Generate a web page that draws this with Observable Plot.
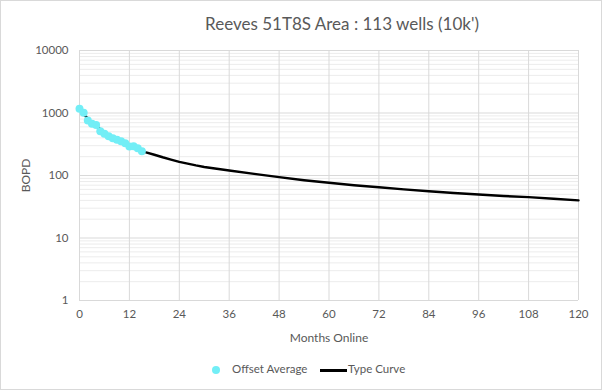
<!DOCTYPE html>
<html><head><meta charset="utf-8">
<script src="https://cdn.jsdelivr.net/npm/d3@7"></script>
<script src="https://cdn.jsdelivr.net/npm/@observablehq/plot@0.6"></script>
<style>
body{margin:0;background:#fff;}
#wrap{position:relative;width:602px;height:390px;font-family:Lato,sans-serif;color:#595959;overflow:hidden;background:#fff}
#frame{position:absolute;left:0;top:0;width:600px;height:388px;border:1px solid #d9d9d9;pointer-events:none}
#title{position:absolute;top:13px;left:342px;transform:translateX(-50%);font-size:17px;white-space:nowrap}
#legend{position:absolute;top:362px;left:0;width:602px;height:16px;font-size:11.5px;white-space:nowrap}
#legend .dot{position:absolute;left:212px;top:4px;width:8px;height:8px;border-radius:50%;background:#72eef6}
#legend .t1{position:absolute;left:232px;top:0px}
#legend .ln{position:absolute;left:320px;top:7px;width:27px;height:3px;background:#000}
#legend .t2{position:absolute;left:348px;top:0px}
#chart{position:absolute;left:0;top:0}
#chart svg g[aria-label="y-axis label"] text, #chart svg g[aria-label="x-axis label"] text{font-size:12px}
</style>
</head><body>
<div id="wrap">
  <div id="chart"></div>
  <div id="title">Reeves 51T8S Area : 113 wells (10k')</div>
  <div id="legend"><span class="dot"></span><span class="t1">Offset Average</span><span class="ln"></span><span class="t2">Type Curve</span></div>
  <div id="frame"></div>
</div>
<script>
// Offset Average (cyan points)
const offsetMonths = [0,1,2,3,4,5,6,7,8,9,10,11,12,13,14,15];
const offsetValues = [1166,1010,760,671,640,512,464,426,396,372,354,329,290,295,272,245];

// Type Curve (black line)
const typeMonths = [1,2,3,4,5,6,8,10,12,14,16,18,20,22,24,26,28,30,33,36,42,48,54,60,66,72,78,84,90,96,102,108,114,120];
const typeValues = [950,820,710,620,550,490,410,350,305,268,235,215,196,180,165,155,145,137,128,120,106,94,84,76.5,70,65,60,56,52.5,49.7,47,45,42.5,40];

// Axis ticks
const xTicks = [0,12,24,36,48,60,72,84,96,108,120];
const yTicks = [1,10,100,1000,10000];
const yMinor = yTicks.slice(0,-1).flatMap(d => [2,3,4,5,6,7,8,9].map(k => d*k));

const offset = offsetMonths.map((m,i) => ({m, v: offsetValues[i]}));
const typeCurve = typeMonths.map((m,i) => ({m, v: typeValues[i]}));

const chart = Plot.plot({
  width: 602, height: 390,
  marginLeft: 79, marginRight: 24, marginTop: 50, marginBottom: 90,
  style: {fontFamily: "Lato, sans-serif", fontSize: "11.5px", color: "#595959", background: "transparent"},
  x: {domain: [0,120]},
  y: {type: "log", domain: [1,10000]},
  marks: [
    Plot.ruleY(yMinor, {stroke: "#ececec"}),
    Plot.ruleY(yTicks, {stroke: "#d9d9d9"}),
    Plot.ruleX(xTicks, {stroke: "#d9d9d9"}),
    Plot.axisX({ticks: xTicks, tickSize: 0, tickPadding: 9, tickFormat: d => String(d),
      label: "Months Online", labelAnchor: "center", labelArrow: "none", labelOffset: 41}),
    Plot.axisY({ticks: yTicks, tickSize: 0, tickPadding: 11, tickFormat: d => String(d),
      label: "BOPD", labelAnchor: "center", labelArrow: "none", labelOffset: 58}),
    Plot.line(typeCurve, {x: "m", y: "v", stroke: "#000", strokeWidth: 2.4}),
    Plot.dot(offset, {x: "m", y: "v", r: 4, fill: "#72eef6", stroke: "none"})
  ]
});
document.getElementById("chart").appendChild(chart);
</script>
</body></html>
